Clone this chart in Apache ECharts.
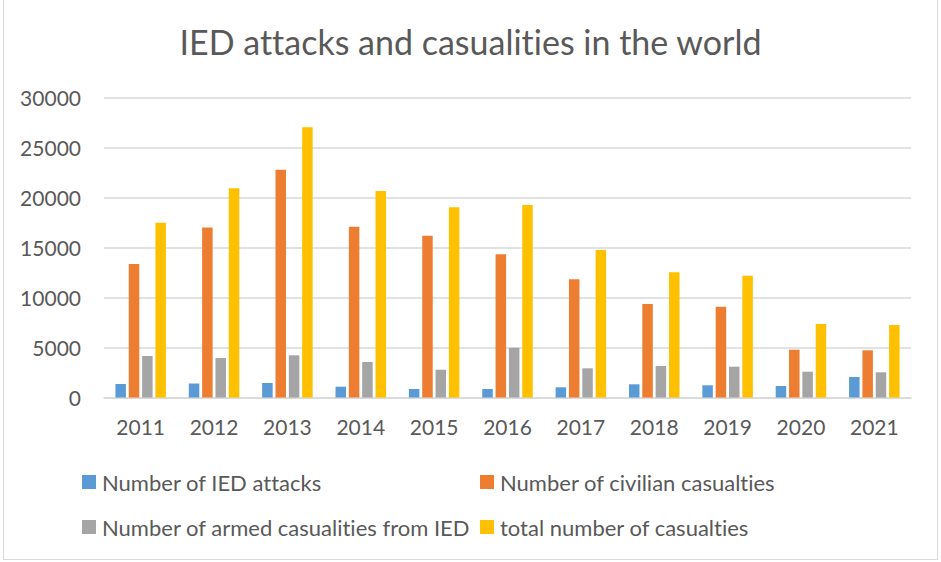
<!DOCTYPE html>
<html>
<head>
<meta charset="utf-8">
<script src="https://cdn.jsdelivr.net/npm/echarts@6/dist/echarts.min.js"></script>
<style>
html,body{margin:0;padding:0;background:#fff;}
#frame{position:absolute;left:3px;top:0px;width:935px;height:560px;border:1px solid #D9D9D9;border-top:none;box-sizing:border-box;}
#chart{position:absolute;left:0;top:0;width:941px;height:562px;}
#chart text{font-variant-ligatures:none;font-feature-settings:"liga" 0,"clig" 0;}
</style>
</head>
<body>
<div id="frame"></div>
<div id="chart"></div>
<script>
const categories = ['2011','2012','2013','2014','2015','2016','2017','2018','2019','2020','2021'];
const seriesNames = ['Number of IED attacks','Number of civilian casualties','Number of armed casualities from IED','total number of casualties'];
const iedAttacks = [1350,1400,1450,1080,850,850,1020,1320,1220,1150,2050];
const civilianCasualties = [13350,17000,22780,17080,16180,14320,11820,9350,9080,4780,4720];
const armedCasualties = [4150,3950,4220,3550,2780,4980,2920,3150,3080,2580,2520];
const totalCasualties = [17480,20920,27020,20650,19020,19250,14750,12520,12180,7350,7250];
const yTicks = [0,5000,10000,15000,20000,25000,30000];
const colors = ['#5B9BD5','#ED7D31','#A5A5A5','#FFC000'];

const FONT = 'Lato';
const TXT = '#595959';
const chart = echarts.init(document.getElementById('chart'), null, {renderer:'svg'});
const allData = [iedAttacks, civilianCasualties, armedCasualties, totalCasualties];
const legendPos = [[82,470],[480,470],[82,515],[480,515]];
chart.setOption({
  animation:false,
  title:{text:'IED attacks and casualities in the world',left:'center',top:19,
    textStyle:{fontFamily:FONT,fontWeight:'normal',fontSize:34,color:TXT}},
  grid:{left:104,right:30,top:97.5,bottom:164.5,containLabel:false},
  legend: seriesNames.map((n,i)=>({data:[n],left:legendPos[i][0],top:legendPos[i][1],padding:0,
    icon:'rect',itemWidth:14,itemHeight:14,
    textStyle:{fontFamily:FONT,fontSize:22,lineHeight:24,color:TXT,padding:[0,0,0,1]}})),
  xAxis:{type:'category',data:categories,
    axisLine:{lineStyle:{color:'#D9D9D9',width:1.5}},axisTick:{show:false},
    axisLabel:{fontFamily:FONT,fontSize:21,color:TXT,margin:18}},
  yAxis:{type:'value',min:yTicks[0],max:yTicks[yTicks.length-1],interval:yTicks[1]-yTicks[0],
    axisLine:{show:false},axisTick:{show:false},
    splitLine:{lineStyle:{color:'#D9D9D9',width:1.5}},
    axisLabel:{fontFamily:FONT,fontSize:21,color:TXT,margin:23,formatter:v=>String(v)}},
  series: seriesNames.map((n,i)=>({name:n,type:'bar',data:allData[i],barWidth:10.5,barGap:'27%',
    itemStyle:{color:colors[i]}}))
});
</script>
</body>
</html>
